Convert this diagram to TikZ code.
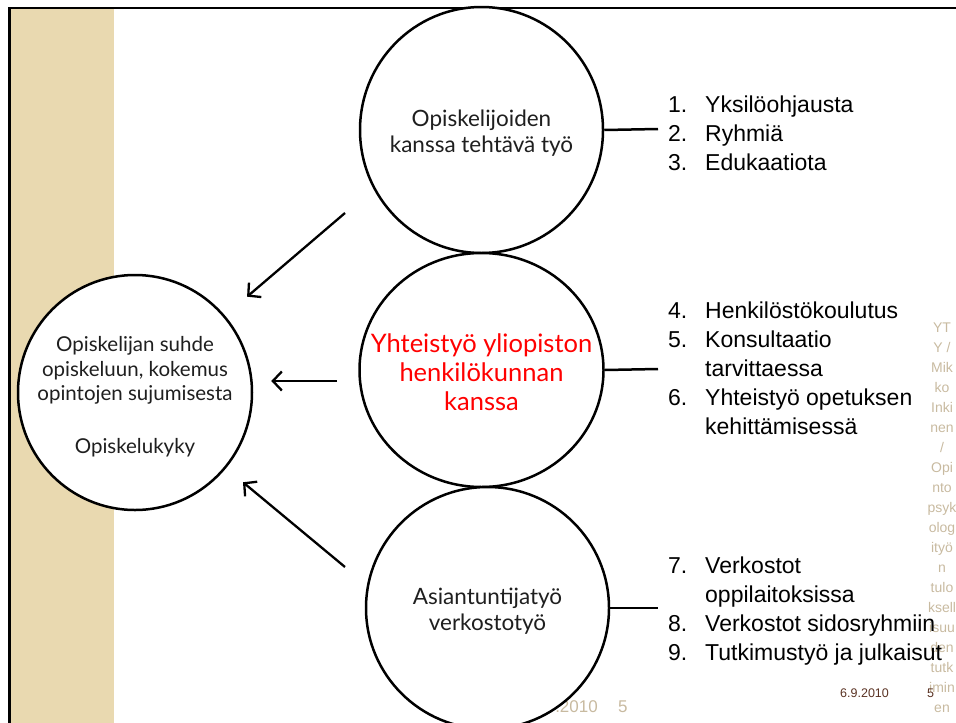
\documentclass[tikz,border=0pt]{standalone}
\usepackage{fontspec}
\setmainfont{Liberation Sans}
\newfontfamily\circfont{Lato}
\usetikzlibrary{shapes.geometric,arrows.meta}
\definecolor{stripcol}{RGB}{233,217,176}
\definecolor{ghostcol}{RGB}{200,186,160}
\definecolor{datecol}{RGB}{90,50,35}
\begin{document}
\begin{tikzpicture}[x=1pt,y=-1pt,
  framel/.style={line width=2.5pt},
  ring/.style={draw, line width=2.5pt, fill=white, ellipse, inner sep=0pt},
  ctext/.style={font=\circfont\fontsize{22.5}{26}\selectfont, align=center, text=black!88, inner sep=0pt},
  ltext/.style={font=\circfont\fontsize{20.5}{24.5}\selectfont, align=center, text=black!88, inner sep=0pt},
  redtext/.style={font=\circfont\fontsize{25.5}{29}\selectfont, align=center, text=red, inner sep=0pt},
  listtext/.style={font=\fontsize{23}{29}\selectfont, inner sep=0pt, anchor=base west},
  conn/.style={line width=2.5pt},
  arr/.style={line width=2.3pt, -{Straight Barb[length=9pt,width=19pt]}},
  vtext/.style={font=\fontsize{14}{16}\selectfont, text=ghostcol, inner sep=0pt, anchor=base},
]
\useasboundingbox (0,0) rectangle (956,723);
% background strip and frame
\fill[stripcol] (10,8) rectangle (114,723);
\draw[framel] (8,8) -- (956,8);
\draw[framel] (9.5,8) -- (9.5,723);

% vertical footer text
\foreach \w [count=\i from 0] in {YT,Y /,Mik,ko,Inki,nen,/,Opi,nto,psyk,olog,ityö,n,tulo,ksell,isuu,den,tutk,imin,en}
  \node[vtext] (v\i) at (942,332+20*\i) {\w};

% ghost footer (partly hidden by bottom circle)
\node[font=\fontsize{17}{20}\selectfont, text=ghostcol, inner sep=0pt, anchor=base east] (gdate) at (598,712) {6.9.2010};
\node[font=\fontsize{17}{20}\selectfont, text=ghostcol, inner sep=0pt, anchor=base west] (gnum) at (618,712) {5};

% circles
\node[ring, minimum width=243pt, minimum height=246pt] (top) at (481.5,130) {};
\node[ring, minimum width=244pt, minimum height=234pt] (mid) at (481.5,370) {};
\node[ring, minimum width=243pt, minimum height=242pt] (bot) at (487.5,608) {};
\node[ring, minimum width=234pt, minimum height=235pt] (left) at (135,392.5) {};

% circle texts
\node[ctext] (ttop) at (481.5,133) {Opiskelijoiden\\kanssa tehtävä työ};
\node[redtext] (tmid) at (481.5,372) {Yhteistyö yliopiston\\henkilökunnan\\kanssa};
\node[ctext] (tbot) at (487.5,611) {Asiantuntijatyö\\verkostotyö};
\node[ltext, anchor=base] (tleft) at (135,400.5) {Opiskelijan suhde\\opiskeluun, kokemus\\opintojen sujumisesta};
\node[ltext, anchor=base] (tleft2) at (135,453) {Opiskelukyky};

% lists
\node[listtext] (L1) at (668,112) {\begin{tabular}[t]{@{}p{37pt}@{}l@{}}1.&Yksilöohjausta\\2.&Ryhmiä\\3.&Edukaatiota\end{tabular}};
\node[listtext] (L2) at (668,318) {\begin{tabular}[t]{@{}p{37pt}@{}l@{}}4.&Henkilöstökoulutus\\5.&Konsultaatio\\&tarvittaessa\\6.&Yhteistyö opetuksen\\&kehittämisessä\end{tabular}};
\node[listtext] (L3) at (668,573) {\begin{tabular}[t]{@{}p{37pt}@{}l@{}}7.&Verkostot\\&oppilaitoksissa\\8.&Verkostot sidosryhmiin\\9.&Tutkimustyö ja julkaisut\end{tabular}};

% connectors to lists
\coordinate (e1) at (658,129);
\coordinate (e2) at (658,369);
\coordinate (e3) at (658,608);
\draw[conn] (top.east) -- (e1);
\draw[conn] (mid.east) -- (e2);
\draw[conn] (bot.east) -- (e3);

% arrows into the left circle
\coordinate (a1) at (345,213);
\coordinate (a2) at (337,381);
\coordinate (a3) at (345,567);
\draw[arr, shorten >=29pt] (a1) -- (left);
\draw[arr, shorten >=18pt] (a2) -- (a2 -| left.east);
\draw[arr, shorten >=22pt] (a3) -- (left);

% footer
\node[font=\fontsize{12.5}{14}\selectfont, text=datecol, inner sep=0pt, anchor=base west] (date) at (840,697) {6.9.2010};
\node[font=\fontsize{12.5}{14}\selectfont, text=datecol, inner sep=0pt, anchor=base west] (pnum) at (927,697) {5};
\end{tikzpicture}
\end{document}
